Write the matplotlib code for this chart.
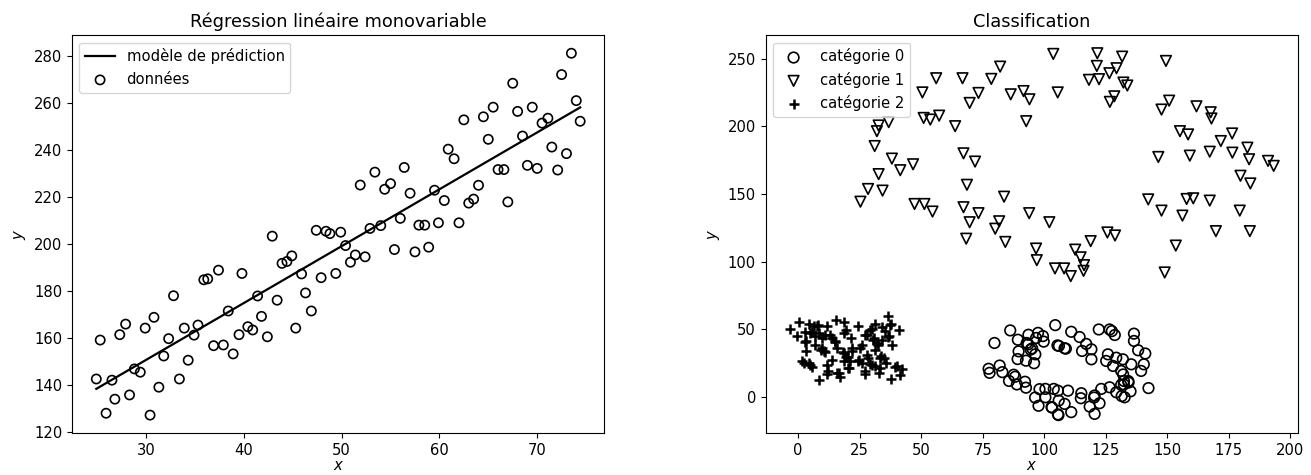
import numpy as np
import matplotlib
matplotlib.use("Agg")
import matplotlib.pyplot as plt

plt.rcParams["font.size"] = 10.6

# --- régression : données ---
reg_x = [24.9, 25.3, 25.9, 26.5, 26.8, 27.3, 27.9, 28.3, 28.8, 29.4,
         29.9, 30.4, 30.8, 31.3, 31.8, 32.3, 32.8, 33.4, 33.9, 34.3,
         34.9, 35.3, 35.9, 36.3, 36.9, 37.4, 37.9, 38.4, 38.9, 39.5,
         39.8, 40.4, 40.9, 41.4, 41.8, 42.4, 42.9, 43.4, 43.9, 44.4,
         44.9, 45.3, 45.9, 46.3, 46.9, 47.4, 47.9, 48.4, 48.8, 49.4,
         49.9, 50.4, 50.9, 51.4, 51.9, 52.4, 52.9, 53.4, 54.0, 54.4,
         55.0, 55.4, 56.0, 56.4, 57.0, 57.5, 57.9, 58.5, 58.9, 59.5,
         59.9, 60.5, 60.9, 61.5, 62.0, 62.5, 63.0, 63.5, 64.0, 64.5,
         65.0, 65.5, 66.0, 66.6, 67.0, 67.5, 68.0, 68.5, 69.0, 69.5,
         70.0, 70.5, 71.1, 71.5, 72.1, 72.5, 73.0, 73.5, 74.0, 74.4]
reg_y = [142.4, 159.0, 127.8, 141.9, 133.8, 161.3, 165.8, 135.6, 146.7, 145.3,
         164.1, 127.0, 168.7, 138.9, 152.2, 159.6, 177.9, 142.4, 164.1, 150.4,
         161.1, 165.4, 184.7, 185.1, 156.6, 188.8, 156.9, 171.4, 153.1, 161.3,
         187.4, 164.7, 163.3, 177.8, 169.1, 160.4, 203.3, 176.0, 191.7, 192.5,
         194.9, 164.1, 187.2, 179.1, 171.4, 205.8, 185.6, 205.4, 204.4, 187.4,
         205.0, 199.3, 192.2, 195.3, 225.1, 194.5, 206.6, 230.6, 207.8, 223.3,
         225.7, 197.6, 210.9, 232.6, 221.6, 196.6, 208.0, 208.0, 198.6, 222.9,
         209.0, 218.5, 240.4, 236.3, 209.0, 252.9, 217.4, 219.1, 225.0, 254.2,
         244.6, 258.3, 231.7, 231.7, 217.9, 268.5, 256.5, 246.0, 233.5, 258.3,
         232.2, 251.5, 253.6, 241.3, 231.5, 272.2, 238.5, 281.3, 261.1, 252.3]
model_x = [24.9, 74.4]
model_y = [138.2, 258.2]

# --- classification : catégorie 0 (cercles) ---
c0 = [(79.8, 39.7), (86.2, 49.0), (77.4, 20.6), (77.8, 17.6), (81.9, 23.0),
      (83.0, 18.1), (85.7, 11.6), (88.2, 14.7), (88.9, 9.0), (92.2, 11.0),
      (92.6, 6.6), (89.3, 42.1), (89.6, 33.5), (89.2, 27.8), (92.9, 39.7),
      (93.6, 45.8), (94.5, 34.8), (92.6, 26.6), (95.9, 24.7), (96.7, 43.4),
      (96.3, -0.7), (97.7, -6.8), (98.1, 5.5), (97.5, 47.2), (99.5, 44.8),
      (99.8, 40.7), (104.5, 52.9), (106.0, 37.5), (93.5, 38.7), (95.1, 35.7),
      (96.4, 31.3), (87.6, 16.2), (100.5, 5.7), (103.9, 5.7), (103.2, -8.1),
      (105.6, -13.2), (105.9, -2.9), (100.5, -0.5), (111.0, 48.0), (114.4, 44.1),
      (115.4, 33.8), (117.1, 39.0), (119.2, 35.0), (119.2, 27.6), (108.3, 35.8),
      (122.2, 49.7), (126.6, 49.7), (128.7, 45.6), (136.5, 46.6), (136.5, 41.2),
      (138.2, 34.3), (141.1, 31.9), (125.9, 31.3), (125.2, 26.4), (128.0, 22.7),
      (129.3, 28.8), (132.0, 27.6), (135.4, 23.9), (140.5, 23.9), (139.4, 19.0),
      (131.3, 19.0), (132.4, 11.6), (134.3, 10.4), (131.3, 8.7), (135.1, 3.9),
      (132.7, -0.5), (142.4, 6.3), (105.6, 4.4), (109.7, 4.4), (115.1, 2.5),
      (120.5, 0.8), (123.2, 5.7), (126.6, 6.9), (122.5, -4.9), (118.5, -7.4),
      (120.5, -12.8), (111.0, -11.5), (108.3, -5.4), (129.3, 3.2), (127.5, 48.5),
      (114.9, -1.2), (103.0, -7.8), (105.8, -13.7), (105.4, 37.9), (120.3, -0.7),
      (131.5, 0.4), (132.4, 9.0), (134.2, 11.5), (132.1, 16.4), (108.8, 35.5)]

# --- catégorie 1 (triangles) ---
c1 = [(82.1, 244.3), (56.1, 235.7), (66.8, 235.7), (78.5, 235.2), (50.5, 225.2),
      (73.3, 224.8), (69.7, 217.4), (86.4, 223.8), (91.6, 226.2), (94.0, 220.1),
      (92.7, 203.9), (51.0, 206.3), (53.7, 205.1), (57.3, 208.0), (63.8, 200.2),
      (32.7, 200.7), (36.8, 203.2), (32.0, 196.5), (31.1, 185.5), (38.1, 176.2),
      (41.5, 167.6), (46.7, 172.0), (67.2, 180.1), (71.9, 174.0), (32.7, 164.7),
      (68.6, 156.8), (28.4, 153.7), (34.3, 152.5), (25.3, 144.3), (47.3, 142.6),
      (51.3, 142.6), (54.6, 137.0), (67.2, 140.2), (73.3, 135.8), (83.7, 148.0),
      (69.7, 129.1), (81.7, 129.8), (80.1, 124.3), (68.3, 116.9), (84.2, 114.5),
      (93.9, 135.8), (96.7, 109.6), (97.0, 101.0),
      (103.7, 253.7), (121.6, 254.2), (121.4, 244.8), (131.7, 251.7), (129.4, 243.1),
      (126.5, 239.4), (118.2, 234.5), (122.3, 235.0), (132.2, 232.5), (133.8, 230.3),
      (149.5, 248.5), (105.5, 225.2), (128.5, 222.3), (126.7, 218.2), (150.8, 219.1),
      (147.7, 212.5), (161.9, 214.9), (167.7, 210.5), (168.0, 205.9), (155.2, 196.5),
      (158.5, 194.1), (176.4, 194.8), (171.8, 189.2), (182.6, 184.3), (183.3, 175.7),
      (176.5, 180.6), (167.3, 181.3), (159.2, 178.4), (146.4, 177.4), (191.0, 174.5),
      (193.3, 170.8), (179.8, 163.5), (183.8, 157.8), (142.3, 146.0), (157.9, 146.3),
      (160.6, 146.8), (167.3, 145.1), (147.7, 137.7), (156.2, 134.0), (179.5, 137.7),
      (169.8, 122.5), (183.6, 122.5), (153.5, 111.8), (149.0, 91.9), (102.1, 129.1),
      (104.4, 94.9), (108.1, 94.9), (110.8, 89.2), (112.6, 108.8), (114.8, 103.1),
      (116.2, 97.3), (116.0, 93.1), (118.9, 115.1), (125.7, 121.5), (128.8, 119.3)]

# --- catégorie 2 (croix) ---
c2 = [(36.5, 59.8), (-3.4, 50.2), (0.4, 54.9), (4.3, 53.7), (6.3, 51.9),
      (8.0, 53.1), (11.8, 51.9), (15.3, 56.8), (18.8, 54.9), (19.5, 49.5),
      (24.4, 51.9), (29.3, 49.5), (31.1, 53.9), (35.4, 48.2), (37.7, 53.9),
      (41.0, 49.0), (-0.4, 45.1), (3.0, 40.9), (5.0, 47.0), (7.0, 44.6),
      (9.7, 43.4), (13.1, 45.8), (15.1, 40.9), (18.5, 47.0), (21.5, 43.4),
      (28.0, 45.8), (30.7, 43.4), (32.1, 39.7), (34.2, 42.1), (38.3, 38.5),
      (36.8, 44.6), (3.0, 33.5), (9.1, 34.8), (10.4, 33.5), (15.8, 36.0),
      (18.5, 32.3), (19.6, 29.4), (21.9, 33.5), (25.3, 36.0), (24.6, 27.4),
      (28.0, 31.1), (31.4, 34.8), (33.7, 30.4), (35.0, 28.7), (1.6, 26.2),
      (4.3, 25.0), (5.7, 22.1), (13.8, 27.4), (18.5, 26.2), (21.2, 26.2),
      (20.5, 21.3), (26.0, 25.0), (29.3, 23.8), (31.4, 22.5), (33.4, 21.3),
      (39.5, 22.1), (42.2, 20.6), (8.6, 12.2), (11.8, 16.4), (16.5, 17.6),
      (17.2, 14.4), (27.3, 16.4), (32.7, 17.6), (37.7, 12.7), (41.5, 15.7),
      (7.7, 52.6), (2.9, 47.6), (5.7, 48.0), (8.4, 46.8), (11.1, 45.6),
      (13.8, 43.1), (2.9, 40.7), (7.0, 38.2), (9.7, 35.8), (11.1, 33.3),
      (15.1, 40.7), (2.3, 24.8), (5.0, 23.5), (11.8, 23.5), (12.2, 19.1),
      (15.8, 17.4), (27.2, 45.6), (29.9, 50.4), (33.9, 51.7), (37.3, 52.9),
      (30.6, 41.9), (32.6, 38.2), (36.6, 44.3), (18.4, 33.3), (20.4, 29.6),
      (21.8, 35.8), (25.8, 38.2), (28.5, 28.4), (24.5, 26.0), (33.3, 28.4),
      (30.0, 23.5), (27.2, 18.6), (20.4, 21.1), (40.0, 22.3), (35.6, 25.0)]

fig = plt.figure(figsize=(13.11, 4.75), dpi=100)
ax1 = fig.add_axes([0.055, 0.088, 0.406, 0.838])
ax2 = fig.add_axes([0.584, 0.088, 0.406, 0.838])

ax1.plot(model_x, model_y, color="black", linewidth=1.6, label="modèle de prédiction")
ax1.scatter(reg_x, reg_y, s=44, facecolors="none", edgecolors="black", linewidths=1.2, label="données")
ax1.set_title("Régression linéaire monovariable", fontsize=12.8)
ax1.set_xlabel("$x$", labelpad=0)
ax1.set_ylabel("$y$")
ax1.legend(loc="upper left")

c0 = np.array(c0)
c1 = np.array(c1)
c2 = np.array(c2)
ax2.scatter(c0[:, 0], c0[:, 1], s=58, marker="o", facecolors="none", edgecolors="black",
            linewidths=1.2, label="catégorie 0")
ax2.scatter(c1[:, 0], c1[:, 1], s=58, marker="v", facecolors="none", edgecolors="black",
            linewidths=1.2, label="catégorie 1")
ax2.scatter(c2[:, 0], c2[:, 1], s=55, marker="+", color="black", linewidths=1.8,
            label="catégorie 2")
ax2.set_title("Classification", fontsize=12.8)
ax2.set_xlabel("$x$", labelpad=0)
ax2.set_ylabel("$y$")
ax2.legend(loc="upper left")

fig.savefig("out.png", dpi=100)
